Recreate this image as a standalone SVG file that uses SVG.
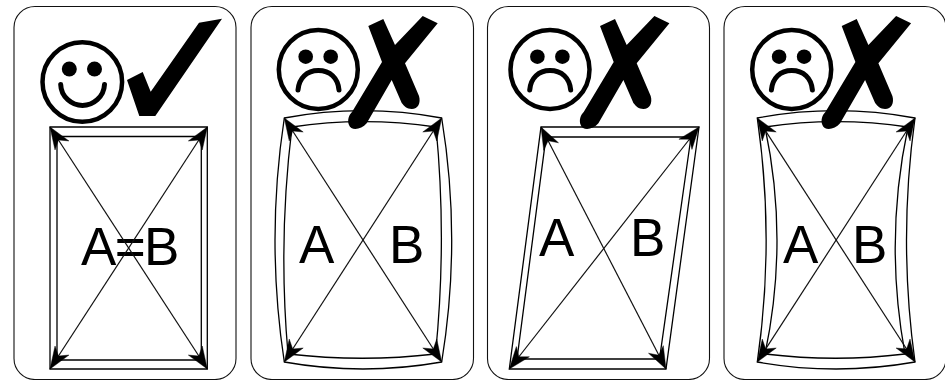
<svg xmlns="http://www.w3.org/2000/svg" xmlns:xlink="http://www.w3.org/1999/xlink" width="945" height="380" viewBox="0 0 945 380">
<style>
.card{fill:#fff;stroke:#111;stroke-width:1.1}
.edge{fill:none;stroke:#000;stroke-width:1.3}
.diag{fill:none;stroke:#111;stroke-width:1.2;marker-start:url(#head);marker-end:url(#head)}
.ring{fill:#fff;stroke:#000;stroke-width:4.5}
.mouth{fill:none;stroke:#000;stroke-width:5;stroke-linecap:round}
.lbl{font-family:"Liberation Sans",Arial,sans-serif;font-size:53px;fill:#000}
</style>
<defs>
<marker id="head" markerUnits="userSpaceOnUse" orient="auto-start-reverse" markerWidth="26" markerHeight="20" refX="23" refY="10" viewBox="0 0 26 20" overflow="visible">
<path d="M23 10L1 1.700L7.500 10L1 18.300Z" fill="#000" stroke="#000" stroke-width="0.4"/>
</marker>
<g id="sad">
<circle class="ring" cx="318.300" cy="69.500" r="39.500"/>
<circle cx="305.700" cy="56.700" r="7.300"/>
<circle cx="330.700" cy="56.700" r="7.300"/>
<path class="mouth" d="M298 90C299 78 307 70.500 318.300 70.500C330 70.500 338 78 339 90"/>
</g>
<path id="cross" d="M368.300 26L383.300 19L395 45L422.700 16L437.700 23.300L405 63.300L419 96C421 103 418 109 411.700 109C407 109 404 106 401.700 103L391.700 80L366.700 123.300C361 130 351 131 349 125C347 120 349 115 352 112L382 62Z"/>
</defs>
<g id="panel-equal">
<rect class="card" x="14" y="6.500" width="222" height="373" rx="21"/>
<path class="edge" d="M50 127H207.300V369H50Z"/>
<path class="edge" d="M57 136.500H201.300V360H57Z"/>
<circle class="ring" cx="82.300" cy="82" r="39.800"/>
<circle cx="69.300" cy="69" r="7.500"/>
<circle cx="94.500" cy="69" r="7.500"/>
<path class="mouth" d="M60.700 84.500C61 97 72 105.500 82.500 105.500C93 105.500 104 97 104.500 84.500"/>
<path d="M127 80L142.700 72L150.700 91.700L199 22.700L222 18.700L155.300 116H139.300Z"/>
<text class="lbl" x="81" y="265" letter-spacing="-1.600">A=B</text>
</g>
<g id="panel-bulge">
<rect class="card" x="251" y="6.500" width="222.500" height="373" rx="21"/>
<path class="edge" d="M284.300 118Q363 103.400 441.700 118Q461.700 240 441.700 362Q363 376 284.300 362Q265.700 240 284.300 118Z"/>
<path class="edge" d="M292 127Q363 116.400 436 127Q447 240 435.500 354Q363 362.500 288 354Q278 240 292 127Z"/>
<use href="#sad"/>
<use href="#cross"/>
<text class="lbl" x="299" y="262.700">A</text>
<text class="lbl" x="389" y="262.700">B</text>
</g>
<g id="panel-skew">
<rect class="card" x="487.500" y="6.500" width="222" height="373" rx="21"/>
<path class="edge" d="M541 127H699L666 369H509.300Z"/>
<path class="edge" d="M546 137H691L659.500 359H517Z"/>
<use href="#sad" x="231.700"/>
<use href="#cross" x="231.700"/>
<text class="lbl" x="539" y="255.700">A</text>
<text class="lbl" x="630" y="255.700">B</text>
</g>
<g id="panel-pinch">
<rect class="card" x="724" y="6.500" width="222" height="373" rx="21"/>
<path class="edge" d="M757.300 118Q836 103.400 915 118Q898 240 915 362Q836 376 757.300 362Q775 240 757.300 118Z"/>
<path class="edge" d="M765 127Q836 116.400 908 127Q884 240 905 354Q836 362.500 765 354Q789 240 765 127Z"/>
<use href="#sad" x="473.400"/>
<use href="#cross" x="473.400"/>
<text class="lbl" x="783" y="262.700">A</text>
<text class="lbl" x="852" y="262.700">B</text>
</g>
<g id="connectors">
<path class="diag" d="M50 127L207.300 369"/>
<path class="diag" d="M207.300 127L50 369"/>
<path class="diag" d="M284.300 118L441.700 362"/>
<path class="diag" d="M441.700 118L284.300 362"/>
<path class="diag" d="M541 127L666 369"/>
<path class="diag" d="M699 127L509.300 369"/>
<path class="diag" d="M757.300 118L915 362"/>
<path class="diag" d="M915 118L757.300 362"/>
</g>
</svg>
